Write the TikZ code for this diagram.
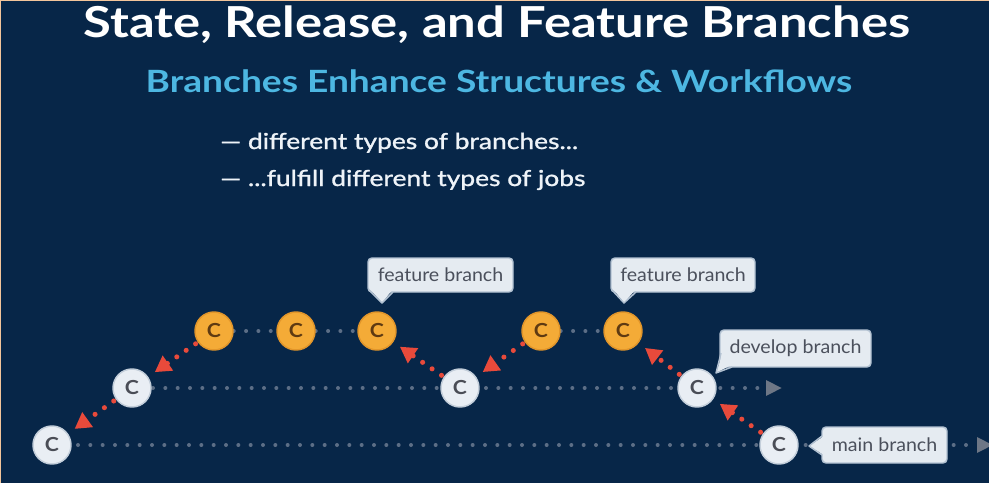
\documentclass[tikz,border=0pt]{standalone}
\usepackage{fontspec}
\setmainfont{Lato}
\newfontfamily\headfont{Lato}[FakeStretch=1.19]
\newfontfamily\subfont{Lato}[FakeStretch=1.21]
\newfontfamily\bulletfont{Lato}[FakeStretch=1.2, FakeBold=1.2]
\newfontfamily\calloutfont{Lato}[FakeStretch=1.05]
\newfontfamily\commitfont{Lato}[FakeStretch=1.1]
\usetikzlibrary{arrows.meta,backgrounds}

\definecolor{bg}{HTML}{072648}
\definecolor{edgepeach}{HTML}{F3C59B}
\definecolor{subcyan}{HTML}{4DB7E2}
\definecolor{bullettext}{HTML}{EEF3F8}
\definecolor{dotgrey}{HTML}{5C6E86}
\definecolor{arrowgrey}{HTML}{6E7786}
\definecolor{mergered}{HTML}{E84A3B}
\definecolor{cwhite}{HTML}{E9EEF4}
\definecolor{cwhiteedge}{HTML}{C3CEDA}
\definecolor{cwhitetext}{HTML}{4A4D56}
\definecolor{corange}{HTML}{F4AB37}
\definecolor{corangeedge}{HTML}{E1952A}
\definecolor{cbrown}{HTML}{5E3A12}
\definecolor{callfill}{HTML}{E5EBF1}
\definecolor{calledge}{HTML}{B2C1D1}
\definecolor{calltext}{HTML}{4B505C}

\begin{document}
\begin{tikzpicture}[x=0.75pt,y=-0.75pt,
  commit/.style={circle, minimum size=28.5pt, inner sep=0pt, line width=1.1pt,
    font=\commitfont\fontsize{14.5}{14.5}\selectfont\bfseries},
  devcommit/.style={commit, fill=cwhite, draw=cwhiteedge, text=cwhitetext},
  featcommit/.style={commit, fill=corange, draw=corangeedge, text=cbrown},
  callbox/.style={rectangle, rounded corners=3pt, fill=callfill, draw=calledge,
    line width=1.1pt, text=calltext, inner sep=0pt,
    font=\calloutfont\fontsize{14}{14}\selectfont},
  callptr/.style={fill=callfill},
  callptredge/.style={draw=calledge, line width=1.1pt, line join=round},
  greydots/.style={draw=dotgrey, line width=3pt, line cap=round,
    dash pattern=on 0pt off 9.25pt},
  greyline/.style={greydots, -{Triangle[length=12pt,width=11pt,color=arrowgrey]}},
  mergeline/.style={draw=mergered, line width=3.8pt, line cap=round,
    dash pattern=on 0pt off 8.6pt, -{Triangle[length=12pt,width=13pt]},
    shorten >=6pt, shorten <=2pt},
  titletext/.style={text=white, inner sep=0pt, font=\headfont\fontsize{32}{32}\selectfont\bfseries},
  subtext/.style={text=subcyan, inner sep=0pt, font=\subfont\fontsize{23}{23}\selectfont\bfseries},
  bullet/.style={text=bullettext, inner sep=0pt, anchor=base west,
    font=\bulletfont\fontsize{16.5}{16.5}\selectfont}
]
\useasboundingbox (0,0) rectangle (989,483);

% headings
\node[titletext, anchor=base] (title) at (497,37) {State, Release, and Feature Branches};
\node[subtext, anchor=base] (subtitle) at (499,92) {Branches Enhance Structures \& Workflows};
\node[bullet] (b1) at (220,149) {— different types of branches...};
\node[bullet] (b2) at (220,186) {— ...fulfill different types of jobs};

% commits
\node[devcommit]  (c0) at (52,445)  {C};
\node[devcommit]  (d1) at (132,388) {C};
\node[featcommit] (f1) at (214,331) {C};
\node[featcommit] (f2) at (296,331) {C};
\node[featcommit] (f3) at (377,331) {C};
\node[devcommit]  (d2) at (460,388) {C};
\node[featcommit] (f4) at (541,331) {C};
\node[featcommit] (f5) at (623,331) {C};
\node[devcommit]  (d3) at (697,388) {C};
\node[devcommit]  (m1) at (779,445) {C};

\coordinate (mainstart) at (78,445);
\coordinate (mainend) at (993,445);
\coordinate (devstart) at (153,388);
\coordinate (devend) at (782,388);

% callouts
\node[callbox, minimum width=108.75pt, minimum height=25.5pt] (fb1) at (440.5,275) {feature branch};
\fill[callptr] (370,289) -- (382,303) -- (393,289) -- cycle;
\draw[callptredge] (369,290) -- (382,303) -- (393,292);

\node[callbox, minimum width=108pt, minimum height=25.5pt] (fb2) at (683,275) {feature branch};
\fill[callptr] (613,289) -- (624,303) -- (636,289) -- cycle;
\draw[callptredge] (612,290) -- (624,303) -- (636,292);

\node[callbox, minimum width=113.25pt, minimum height=27.75pt] (db) at (795.5,348.5) {develop branch};
\fill[callptr] (723,352) -- (716,373) -- (733,364) -- (723,364) -- cycle;
\draw[callptredge] (721,353) -- (716,373) -- (732,367);

\node[callbox, minimum width=93.75pt, minimum height=27pt] (mb) at (884.5,445) {main branch};
\fill[callptr] (824,436) -- (809,446) -- (824,455) -- cycle;
\draw[callptredge] (822,436) -- (809,446) -- (822,455);

\begin{scope}[on background layer]
  \fill[bg] (0,0) rectangle (989,483);
  \draw[edgepeach, line width=1.2pt] (0.6,483) -- (0.6,0.6) -- (989,0.6);
  \clip (0,0) rectangle (989,483);
  % branch lines
  \draw[greyline] (mainstart) -- (mainend);
  \draw[greyline] (devstart) -- (devend);
  \draw[greydots] (f1) -- (f2);
  \draw[greydots] (f2) -- (f3);
  \draw[greydots] (f4) -- (f5);
  % merges and branch-offs
  \draw[mergeline] (d1) -- (c0);
  \draw[mergeline] (f1) -- (d1);
  \draw[mergeline] (d2) -- (f3);
  \draw[mergeline] (f4) -- (d2);
  \draw[mergeline] (d3) -- (f5);
  \draw[mergeline] (m1) -- (d3);
\end{scope}
\end{tikzpicture}
\end{document}
